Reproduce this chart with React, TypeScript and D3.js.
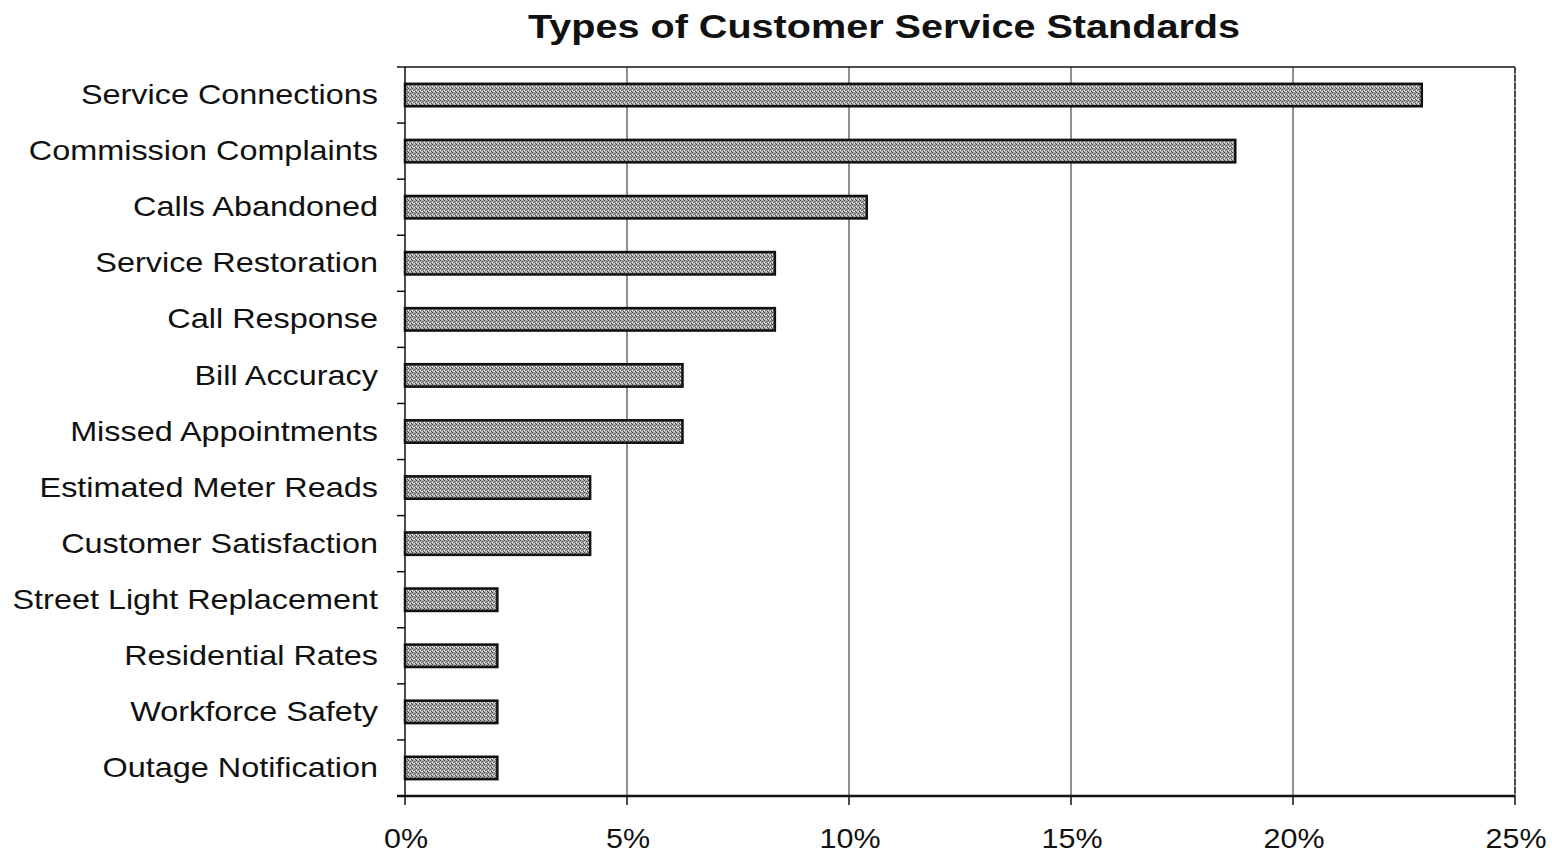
import React from "react";
import * as d3 from "d3";

const categories = [
  "Service Connections",
  "Commission Complaints",
  "Calls Abandoned",
  "Service Restoration",
  "Call Response",
  "Bill Accuracy",
  "Missed Appointments",
  "Estimated Meter Reads",
  "Customer Satisfaction",
  "Street Light Replacement",
  "Residential Rates",
  "Workforce Safety",
  "Outage Notification",
];
const values = [22.9, 18.7, 10.4, 8.33, 8.33, 6.25, 6.25, 4.17, 4.17, 2.08, 2.08, 2.08, 2.08];
const xTicks = [0, 5, 10, 15, 20, 25];
const title = "Types of Customer Service Standards";

export default function App() {
  const W = 1552, H = 854;
  const left = 405, right = 1515, top = 67, bottom = 796;
  const x = d3.scaleLinear().domain([0, 25]).range([left, right]);
  const y = d3.scaleBand().domain(categories).range([top, bottom]).paddingInner(0.6).paddingOuter(0.3);
  const yb = d3.scaleBand().domain(categories).range([top, bottom]);
  const font = "'Liberation Sans', Arial, sans-serif";
  return (
    <svg width={W} height={H} style={{ position: "absolute", left: 0, top: 0, background: "#fff" }}>
      <defs>
        <pattern id="stip" width="4" height="4" patternUnits="userSpaceOnUse">
          <rect width="4" height="4" fill="#acacac" />
          <rect x="0" y="0" width="1" height="1" fill="#444" />
          <rect x="2" y="1" width="1" height="1" fill="#555" />
          <rect x="1" y="2" width="1" height="1" fill="#666" />
          <rect x="3" y="3" width="1" height="1" fill="#444" />
          <rect x="3" y="1" width="1" height="1" fill="#777" />
          <rect x="2" y="3" width="1" height="1" fill="#eee" />
          <rect x="0" y="2" width="1" height="1" fill="#f4f4f4" />
        </pattern>
      </defs>
      <rect width={W} height={H} fill="#fff" />
      <text
        transform={`translate(884,38) scale(1.2,1)`}
        textAnchor="middle"
        fontFamily={font}
        fontWeight="bold"
        fontSize={33}
        fill="#111"
      >
        {title}
      </text>
      {/* gridlines */}
      {xTicks.slice(1).map((t) => (
        <line key={t} x1={x(t)} x2={x(t)} y1={top} y2={bottom} stroke="#222" strokeWidth={1} />
      ))}
      {/* border top and right */}
      <line x1={left} x2={right} y1={top} y2={top} stroke="#111" strokeWidth={1.5} />
      <line x1={right} x2={right} y1={top} y2={bottom} stroke="#333" strokeWidth={1.5} strokeDasharray="6 2" />
      {/* bars */}
      {categories.map((c, i) => (
        <rect
          key={c}
          x={x(0)}
          y={y(c)!}
          width={x(values[i]) - x(0)}
          height={y.bandwidth()}
          fill="url(#stip)"
          stroke="#111"
          strokeWidth={2.5}
        />
      ))}
      {/* y axis */}
      <line x1={left} x2={left} y1={top} y2={bottom} stroke="#111" strokeWidth={1.5} />
      {categories.map((c) => (
        <line key={c} x1={left - 8} x2={left} y1={yb(c)!} y2={yb(c)!} stroke="#111" strokeWidth={1.5} />
      ))}
      <line x1={left - 8} x2={left} y1={bottom} y2={bottom} stroke="#111" strokeWidth={1.5} />
      {categories.map((c) => (
        <text
          key={c}
          transform={`translate(378,${yb(c)! + yb.bandwidth() / 2 + 2}) scale(1.2,1)`}
          textAnchor="end"
          dominantBaseline="middle"
          fontFamily={font}
          fontSize={27}
          fill="#111"
        >
          {c}
        </text>
      ))}
      {/* x axis */}
      <line x1={left - 8} x2={right} y1={bottom} y2={bottom} stroke="#111" strokeWidth={2.5} />
      {xTicks.map((t) => (
        <g key={t}>
          <line x1={x(t)} x2={x(t)} y1={bottom} y2={bottom + 9} stroke="#111" strokeWidth={1.5} />
          <text
            transform={`translate(${x(t) + 1},848) scale(1.13,1)`}
            textAnchor="middle"
            fontFamily={font}
            fontSize={27}
            fill="#111"
          >
            {t}%
          </text>
        </g>
      ))}
    </svg>
  );
}
